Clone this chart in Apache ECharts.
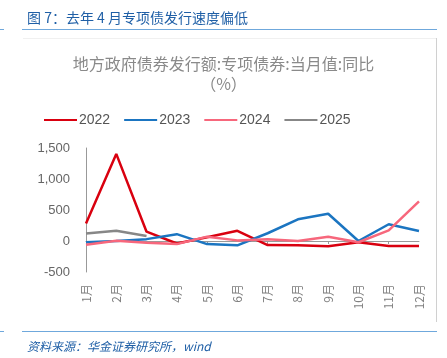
<!DOCTYPE html>
<html><head><meta charset="utf-8">
<script src="https://cdn.jsdelivr.net/npm/echarts@6/dist/echarts.min.js"></script>
<style>html,body{margin:0;padding:0;background:#fff}#c{width:447px;height:358px}</style>
</head><body><div id="c"></div>
<script>
var months = ['1月','2月','3月','4月','5月','6月','7月','8月','9月','10月','11月','12月'];
var s2022 = [284, 1405, 150, -40, 60, 165, -65, -70, -85, -20, -80, -80];
var s2023 = [-20, 0, 30, 110, -50, -70, 125, 350, 440, 0, 270, 160];
var s2024 = [-60, 5, -30, -50, 70, 10, 30, 0, 70, -20, 170, 640];
var s2025 = [120, 165, 80];
var yTicks = [-500, 0, 500, 1000, 1500];

var chart = echarts.init(document.getElementById('c'));
var cjk = '"Noto Sans CJK SC", sans-serif';
var lat = '"Liberation Sans", Arial, sans-serif';
function ln(name, data, color) {
  return { name: name, type: 'line', data: data, symbol: 'none', xAxisIndex: 0,
    lineStyle: { color: color, width: 2.5 }, itemStyle: { color: color } };
}
chart.setOption({
  animation: false,
  title: [
    { text: '图 7：去年 4 月专项债发行速度偏低', left: 22, top: 6,
      textStyle: { fontFamily: cjk, fontSize: 14, fontWeight: 'normal', color: '#1f5fa6' } },
    { text: '地方政府债券发行额:专项债券:当月值:同比', left: 'center', top: 51,
      textStyle: { fontFamily: cjk, fontSize: 16, fontWeight: 'normal', color: '#8a8a8a' } },
    { text: '（%）', left: 'center', top: 71,
      textStyle: { fontFamily: cjk, fontSize: 16, fontWeight: 'normal', color: '#8a8a8a' } },
    { text: '资料来源：华金证券研究所，wind', left: 22, top: 335,
      textStyle: { fontFamily: cjk, fontSize: 12, fontWeight: 'normal', fontStyle: 'italic', color: '#1f5fa6' } }
  ],
  graphic: [
    { type: 'line', shape: { x1: 22, y1: 29.5, x2: 437, y2: 29.5 }, style: { stroke: '#6fa8dc', lineWidth: 1 } },
    { type: 'line', shape: { x1: 0, y1: 29.5, x2: 4, y2: 29.5 }, style: { stroke: '#6fa8dc', lineWidth: 1 } },
    { type: 'line', shape: { x1: 22, y1: 331.5, x2: 437, y2: 331.5 }, style: { stroke: '#6fa8dc', lineWidth: 1 } },
    { type: 'line', shape: { x1: 0, y1: 331.5, x2: 4, y2: 331.5 }, style: { stroke: '#6fa8dc', lineWidth: 1 } },
    { type: 'line', shape: { x1: 436.5, y1: 38, x2: 436.5, y2: 322 }, style: { stroke: '#d0d0d0', lineWidth: 1 } },
    { type: 'line', shape: { x1: 23, y1: 38.5, x2: 436, y2: 38.5 }, style: { stroke: '#f0f0f0', lineWidth: 1 } }
  ],
  legend: {
    top: 108, left: 39, itemWidth: 33, itemHeight: 2, itemGap: 14,
    icon: 'rect',
    textStyle: { fontFamily: lat, fontSize: 14, color: '#555', padding: [0, 0, 0, -3] },
    data: ['2022', '2023', '2024', '2025']
  },
  grid: { left: 86, right: 28, top: 148, bottom: 86 },
  xAxis: [
    { type: 'category', data: months, boundaryGap: false,
      axisLine: { onZero: true, lineStyle: { color: '#999', width: 1 } },
      axisTick: { show: true, length: 3, lineStyle: { color: '#999' } },
      axisLabel: { show: false } },
    { type: 'category', data: months, boundaryGap: false, position: 'bottom',
      axisLine: { show: false, onZero: false }, axisTick: { show: false },
      axisLabel: { rotate: 90, margin: 12, fontFamily: cjk, fontSize: 12, color: '#808080' } }
  ],
  yAxis: {
    type: 'value', min: -500, max: 1500, interval: 500,
    splitLine: { show: false },
    axisLine: { show: true, lineStyle: { color: '#999' } },
    axisTick: { show: false },
    axisLabel: { margin: 16, fontFamily: lat, fontSize: 13, color: '#666',
      formatter: function (v) { return yTicks.indexOf(v) >= 0 ? v.toLocaleString('en-US') : ''; } }
  },
  series: [
    ln('2022', s2022, '#d9000f'),
    ln('2023', s2023, '#1b75c1'),
    ln('2024', s2024, '#f7677c'),
    ln('2025', s2025, '#878787')
  ]
});
</script></body></html>
